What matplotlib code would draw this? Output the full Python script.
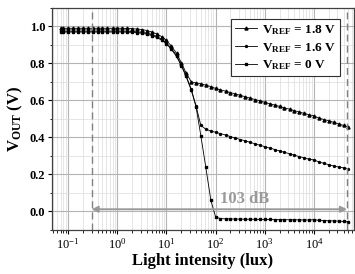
import numpy as np
import matplotlib
matplotlib.use('Agg')
import matplotlib.pyplot as plt
from matplotlib.ticker import MultipleLocator, FixedLocator, NullFormatter

plt.rcParams['font.family'] = ['Liberation Serif', 'DejaVu Serif']
plt.rcParams['mathtext.fontset'] = 'custom'
plt.rcParams['mathtext.rm'] = 'Liberation Serif:bold'
plt.rcParams['mathtext.bf'] = 'Liberation Serif:bold'

# light levels (lux)
lux = [0.07, 0.08, 0.1, 0.125, 0.16, 0.2, 0.25, 0.32, 0.4, 0.5, 0.63, 0.8,
       1, 1.25, 1.6, 2, 2.5, 3.2, 4, 5, 6.3, 8,
       10, 12.5, 16, 20, 25, 32, 40, 50, 63, 80,
       100, 125, 160, 200, 250, 320, 400, 500, 630, 800,
       1000, 1250, 1600, 2000, 2500, 3200, 4000, 5000, 6300, 8000,
       10000, 12500, 16000, 20000, 25000, 32000, 40000, 50000]

v_18 = [0.99, 0.99, 0.99, 0.99, 0.99, 0.99, 0.99, 0.99, 0.99, 0.99, 0.99, 0.99,
        0.99, 0.99, 0.989, 0.988, 0.986, 0.983, 0.978, 0.97, 0.96, 0.945,
        0.925, 0.895, 0.855, 0.805, 0.75, 0.70, 0.695, 0.69, 0.683, 0.675,
        0.665, 0.658, 0.65, 0.643, 0.635, 0.628, 0.62, 0.613, 0.605, 0.598,
        0.59, 0.583, 0.575, 0.568, 0.56, 0.553, 0.545, 0.538, 0.53, 0.523,
        0.517, 0.505, 0.497, 0.49, 0.482, 0.473, 0.465, 0.457]

v_16 = [0.975, 0.975, 0.975, 0.975, 0.975, 0.975, 0.975, 0.975, 0.975, 0.975, 0.975, 0.975,
        0.975, 0.975, 0.974, 0.973, 0.971, 0.968, 0.963, 0.956, 0.946, 0.931,
        0.911, 0.882, 0.843, 0.793, 0.735, 0.66, 0.57, 0.465, 0.445, 0.435,
        0.428, 0.421, 0.413, 0.405, 0.397, 0.389, 0.382, 0.374, 0.366, 0.358,
        0.35, 0.343, 0.335, 0.327, 0.32, 0.312, 0.304, 0.297, 0.29, 0.282,
        0.279, 0.268, 0.26, 0.253, 0.246, 0.24, 0.236, 0.232]

v_0 = [0.97, 0.97, 0.97, 0.97, 0.97, 0.97, 0.97, 0.97, 0.97, 0.97, 0.97, 0.97,
       0.97, 0.97, 0.969, 0.968, 0.966, 0.963, 0.958, 0.951, 0.941, 0.926,
       0.906, 0.877, 0.838, 0.788, 0.73, 0.655, 0.565, 0.41, 0.24, 0.06,
       -0.03, -0.038, -0.04, -0.04, -0.041, -0.041, -0.042, -0.042, -0.042, -0.043,
       -0.043, -0.043, -0.044, -0.044, -0.044, -0.045, -0.045, -0.045, -0.046, -0.046,
       -0.044, -0.048, -0.049, -0.05, -0.051, -0.052, -0.054, -0.056]

labels = [r'$\mathregular{V_{REF}}$ = 1.8 V', r'$\mathregular{V_{REF}}$ = 1.6 V',
          r'$\mathregular{V_{REF}}$ = 0 V']

x_ticks = [0.1, 1, 10, 100, 1000, 10000]
x_ticklabels = [r'$\mathregular{10^{-1}}$', r'$\mathregular{10^{0}}$', r'$\mathregular{10^{1}}$',
                r'$\mathregular{10^{2}}$', r'$\mathregular{10^{3}}$', r'$\mathregular{10^{4}}$']
y_ticks = [0.0, 0.2, 0.4, 0.6, 0.8, 1.0]
y_ticklabels = ['0.0', '0.2', '0.4', '0.6', '0.8', '1.0']

range_lo, range_hi = 0.3, 47000

fig = plt.figure(figsize=(3.55, 2.74), dpi=100)
ax = fig.add_axes([0.1465, 0.1606, 0.8505, 0.8104])

ax.plot(lux, v_18, color='black', lw=0.6, marker='^', ms=2.2, label=labels[0])
ax.plot(lux, v_16, color='black', lw=0.6, marker='o', ms=1.4, label=labels[1])
ax.plot(lux, v_0, color='black', lw=0.6, marker='s', ms=1.5, label=labels[2])

# dynamic range markers
for xv in [range_lo, range_hi]:
    ax.axvline(xv, color='#808080', ls=(0, (5, 3)), lw=1.0)
ax.annotate('', xy=(range_lo, 0.012), xytext=(range_hi, 0.012),
            arrowprops=dict(arrowstyle='<|-|>', color='#999999', lw=1.4,
                            mutation_scale=9, shrinkA=0, shrinkB=0))
ax.text(380, 0.07, '103 dB', color='#999999', fontsize=12, fontweight='bold',
        ha='center', va='center')

ax.set_xscale('log')
ax.set_xlim(0.047, 65000)
ax.set_ylim(-0.1, 1.1)
ax.set_xticks(x_ticks)
ax.set_xticklabels(x_ticklabels)
minor_x = [m * d for d in [0.01, 0.1, 1, 10, 100, 1000, 10000] for m in range(2, 10)]
ax.xaxis.set_minor_locator(FixedLocator([v for v in minor_x if 0.047 <= v <= 65000]))
ax.xaxis.set_minor_formatter(NullFormatter())
ax.set_yticks(y_ticks)
ax.set_yticklabels(y_ticklabels, fontweight='bold')
ax.yaxis.set_minor_locator(MultipleLocator(0.1))

ax.grid(which='major', color='#b4b4b4', lw=0.8)
ax.grid(which='minor', color='#dcdcdc', lw=0.5)
ax.set_axisbelow(True)

ax.tick_params(which='major', direction='out', length=3, width=0.8, labelsize=9, pad=2)
ax.tick_params(which='minor', direction='out', length=1.8, width=0.6)

for sp in ax.spines.values():
    sp.set_color('#404040')
    sp.set_linewidth(0.9)

ax.set_xlabel('Light intensity (lux)', fontsize=12, fontweight='bold', labelpad=1)
ax.set_ylabel(r'$\mathregular{V_{OUT}}$ (V)', fontsize=12, fontweight='bold', labelpad=3)

leg = ax.legend(loc='upper right', bbox_to_anchor=(0.975, 0.98),
                prop={'weight': 'bold', 'size': 9.5}, handlelength=1.6,
                handletextpad=0.4, borderpad=0.3, labelspacing=0.3,
                fancybox=False, framealpha=1)
leg.get_frame().set_edgecolor('#303030')
leg.get_frame().set_linewidth(0.8)

fig.savefig('out.png', dpi=100)
